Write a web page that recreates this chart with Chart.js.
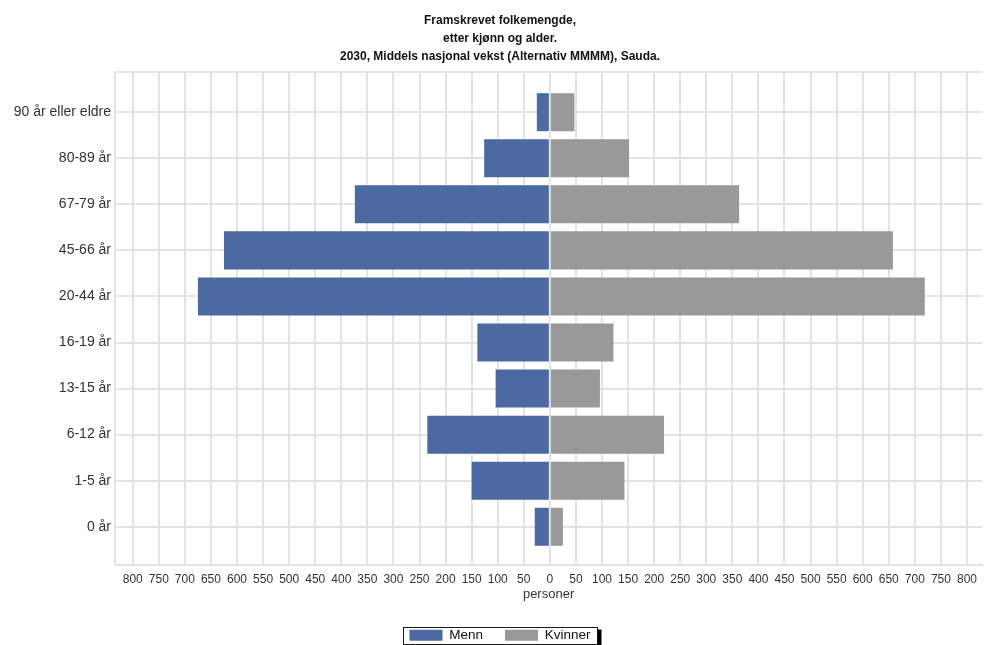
<!DOCTYPE html>
<html>
<head>
<meta charset="utf-8">
<title>Framskrevet folkemengde, Sauda 2030</title>
<script src="https://cdn.jsdelivr.net/npm/chart.js@4/dist/chart.umd.min.js"></script>
<style>
  html, body { margin: 0; padding: 0; background: #ffffff; }
  canvas { display: block; }
</style>
</head>
<body>
<canvas id="pyramid" width="984" height="645"></canvas>
<script>
// Age groups, top of the pyramid first
const ageGroups = [
  '90 år eller eldre', '80-89 år', '67-79 år', '45-66 år', '20-44 år',
  '16-19 år', '13-15 år', '6-12 år', '1-5 år', '0 år'
];
// Persons per age group (men drawn to the left, women to the right)
const menn    = [25, 126, 374, 625, 675, 139, 104, 235, 150, 29];
const kvinner = [47, 152, 363, 658, 719, 122,  96, 219, 143, 25];

const seriesNames = ['Menn', 'Kvinner'];
const titleLines = [
  'Framskrevet folkemengde,',
  'etter kjønn og alder.',
  '2030, Middels nasjonal vekst (Alternativ MMMM), Sauda.'
];
const xAxisTitle = 'personer';
const xTickStep = 50;
const xTickLimit = 800;

const BLUE = '#4d69a1';
const GREY = '#999999';
const GRID = '#e3e3e3';
const FONT = "'Liberation Sans', Arial, Helvetica, sans-serif";

Chart.defaults.font.family = FONT;

// Thin frame line along the top of the plot area
const plotTopLine = {
  id: 'plotTopLine',
  beforeDatasetsDraw(chart) {
    const { ctx, chartArea } = chart;
    ctx.save();
    ctx.strokeStyle = GRID;
    ctx.lineWidth = 2;
    ctx.beginPath();
    ctx.moveTo(chartArea.left, Math.round(chartArea.top));
    ctx.lineTo(chartArea.right, Math.round(chartArea.top));
    ctx.stroke();
    ctx.restore();
  }
};

// Boxed legend with a dark drop edge on the right
const legendFrame = {
  id: 'legendFrame',
  afterDraw(chart) {
    const boxes = chart.legend && chart.legend.legendHitBoxes;
    if (!boxes || !boxes.length) return;
    const first = boxes[0];
    const last = boxes[boxes.length - 1];
    const left = Math.round(first.left - 6) + 0.5;
    const right = Math.round(last.left + last.width + 6) + 0.5;
    const top = Math.round(first.top - 1.5) + 0.5;
    const bottom = top + 17;
    const { ctx } = chart;
    ctx.save();
    ctx.strokeStyle = '#1a1a1a';
    ctx.lineWidth = 1;
    ctx.strokeRect(left, top, right - left, bottom - top);
    ctx.fillStyle = '#000000';
    ctx.fillRect(right, top + 2, 4, bottom - top + 2);
    ctx.restore();
  }
};

const datasets = [
  {
    label: seriesNames[0],
    data: menn.map((v, i) => ({ x: -v, y: i })),
    backgroundColor: BLUE,
    borderColor: BLUE,
    borderWidth: 0,
    stack: 'pyramid'
  },
  {
    label: seriesNames[1],
    data: kvinner.map((v, i) => ({ x: v, y: i })),
    backgroundColor: GREY,
    borderColor: GREY,
    borderWidth: 0,
    stack: 'pyramid'
  }
];

new Chart(document.getElementById('pyramid'), {
  type: 'bar',
  data: { datasets },
  options: {
    indexAxis: 'y',
    responsive: false,
    animation: false,
    categoryPercentage: 0.825,
    barPercentage: 1,
    layout: { autoPadding: false, padding: { left: 8, right: -8, top: 0, bottom: -7 } },
    scales: {
      x: {
        type: 'linear',
        min: -834,
        max: 829,
        afterBuildTicks(scale) {
          const ticks = [];
          for (let v = -xTickLimit; v <= xTickLimit; v += xTickStep) ticks.push({ value: v });
          scale.ticks = ticks;
        },
        afterFit(scale) { scale.height = 41.5; },
        ticks: {
          autoSkip: false,
          maxRotation: 0,
          minRotation: 0,
          padding: 7,
          color: '#333333',
          font: { size: 12 },
          callback: (v) => String(Math.abs(v))
        },
        grid: { color: GRID, lineWidth: 2, drawTicks: false },
        border: { color: GRID, width: 2 },
        title: {
          display: true,
          text: xAxisTitle,
          color: '#333333',
          font: { size: 13 },
          padding: { top: 0, bottom: 4 }
        }
      },
      y: {
        type: 'linear',
        reverse: true,
        offset: false,
        min: -0.87,
        max: 9.83,
        afterBuildTicks(scale) {
          scale.ticks = ageGroups.map((_, i) => ({ value: i }));
        },
        afterFit(scale) { scale.width = 107; },
        ticks: {
          autoSkip: false,
          padding: 4,
          color: '#333333',
          font: { size: 14 },
          callback: (v) => ageGroups[v]
        },
        grid: { color: GRID, lineWidth: 2, drawTicks: false, offset: false },
        border: { color: GRID, width: 2 }
      }
    },
    plugins: {
      title: {
        display: true,
        text: titleLines,
        color: '#111111',
        font: { size: 12, weight: 'bold', lineHeight: 1.475 },
        padding: { top: 12, bottom: 7 }
      },
      legend: {
        position: 'bottom',
        labels: {
          boxWidth: 33,
          boxHeight: 11,
          padding: 22,
          color: '#111111',
          font: { size: 13.5 }
        }
      },
      tooltip: { enabled: false }
    }
  },
  plugins: [plotTopLine, legendFrame]
});
</script>
</body>
</html>
